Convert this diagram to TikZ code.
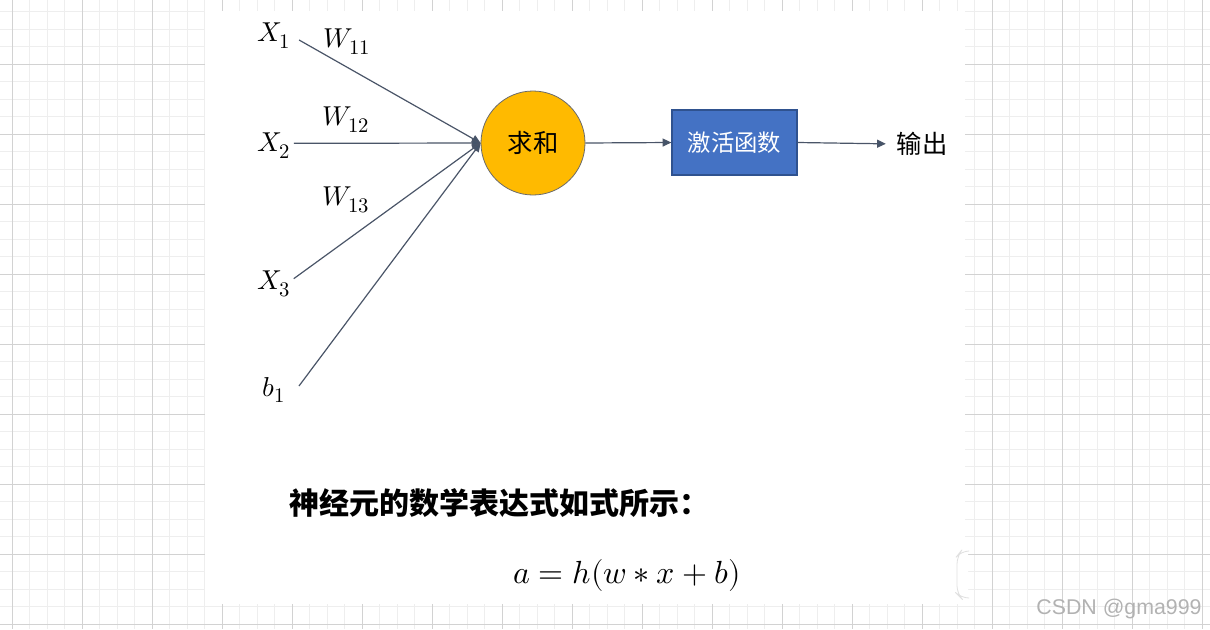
\documentclass[tikz,border=0pt]{standalone}
\usepackage{fontspec}
\usepackage{unicode-math}
\setmathfont{Latin Modern Math}
\usetikzlibrary{arrows.meta}
\newfontfamily\cjk{Noto Sans CJK SC}
\newfontfamily\wmfont{Liberation Sans}
\DeclareMathSizes{20.5}{20.5}{15.5}{11}
\DeclareMathSizes{24}{24}{17}{12}
\definecolor{gridmajor}{HTML}{D2D2D2}
\definecolor{gridminor}{HTML}{EEEEEE}
\definecolor{linec}{HTML}{4A5568}
\definecolor{tipc}{HTML}{44546A}
\definecolor{sumfill}{HTML}{FFBA00}
\definecolor{sumdraw}{HTML}{6B6B6B}
\definecolor{boxfill}{HTML}{4472C4}
\definecolor{boxdraw}{HTML}{2F528F}
\begin{document}
\begin{tikzpicture}[x=0.75pt,y=-0.75pt,
  lbl/.style={inner sep=1pt,font=\fontsize{20.5}{22}\selectfont},
  conn/.style={draw=linec,line width=0.9pt,-{Triangle[length=6.5pt,width=6pt,fill=tipc]}},
  sumnode/.style={circle,fill=sumfill,draw=sumdraw,line width=0.6pt,minimum size=78pt,inner sep=0pt,font=\cjk\fontsize{19}{22}\selectfont},
  actbox/.style={rectangle,fill=boxfill,draw=boxdraw,line width=1pt,minimum width=93.75pt,minimum height=48.75pt,inner sep=0pt,text=white,font=\cjk\fontsize{17.5}{20}\selectfont}]
\useasboundingbox (0,0) rectangle (1210,629);
% grid background
\fill[white] (0,0) rectangle (1210,629);
\foreach \i in {0,...,70} {
  \draw[gridminor,line width=0.75pt] ({-5.2+17.5*\i},0) -- ({-5.2+17.5*\i},629);
}
\foreach \j in {0,...,37} {
  \draw[gridminor,line width=0.75pt] (0,{-6+17.5*\j}) -- (1210,{-6+17.5*\j});
}
\foreach \i in {0,...,17} {
  \draw[gridmajor,line width=0.75pt] ({12.3+70*\i},0) -- ({12.3+70*\i},629);
}
\foreach \j in {0,...,9} {
  \draw[gridmajor,line width=0.75pt] (0,{-6+70*\j}) -- (1210,{-6+70*\j});
}
% white page
\fill[white] (205,11) rectangle (965,604);
\draw[black!12,line width=0.6pt,rounded corners=6pt,fill=white] (968,551) -- (961,551) -- (957,556) -- (957,594) -- (961,598) -- (968,598);
% inputs
\node[lbl] (x1) at (274,36) {$X_1$};
\node[lbl] (x2) at (274,146) {$X_2$};
\node[lbl] (x3) at (274,284) {$X_3$};
\node[lbl] (b1) at (274,390) {$b_1$};
\node[lbl] (w11) at (347,42) {$W_{11}$};
\node[lbl] (w12) at (346,120) {$W_{12}$};
\node[lbl] (w13) at (346,200) {$W_{13}$};
% sum and activation
\node[sumnode] (sum) at (533,143) {求和};
\node[actbox] (act) at (734.5,142.5) {激活函数};
\node[inner sep=0pt,font=\cjk\fontsize{19}{22}\selectfont] (out) at (922,144) {输出};
% connectors
\draw[conn] ([xshift=5pt,yshift=-3pt]x1.east) -- (sum.west);
\draw[conn] ([xshift=1pt,yshift=2pt]x2.east) -- (sum.west);
\draw[conn] ([xshift=1pt,yshift=4pt]x3.east) -- (sum.west);
\draw[conn] ([xshift=9pt,yshift=3pt]b1.east) -- (sum.west);
\draw[conn] (sum.east) -- (act.west);
\draw[conn,shorten >=8pt] (act.east) -- (out.west);
% formula text
\node[font=\cjk\bfseries\fontsize{22.5}{26}\selectfont] (title) at (499,503) {神经元的数学表达式如式所示：};
\node[font=\fontsize{24}{28}\selectfont] (formula) at (627,575) {$a=h(w\ast x+b)$};
% watermark
\node[font=\wmfont\fontsize{16}{18}\selectfont,text=black!30] (wm) at (1119,609) {CSDN @gma999};
\end{tikzpicture}
\end{document}
